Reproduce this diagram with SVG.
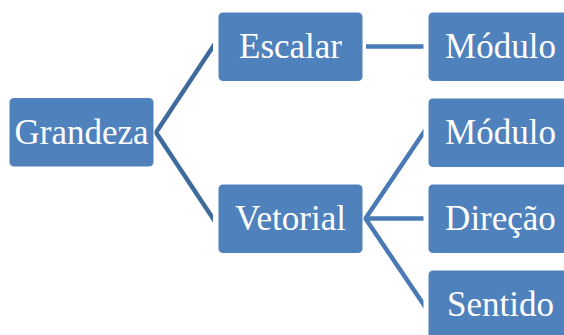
<svg xmlns="http://www.w3.org/2000/svg" width="564" height="335" viewBox="0 0 564 335">
<defs>
<style>
.box{fill:#4F81BD;stroke:#FFFFFF;stroke-width:1}
.lbl{font-family:"Liberation Serif","Times New Roman",serif;font-size:35px;fill:#FFFFFF;text-anchor:middle}
.c1{stroke:#3F6A9C;stroke-width:4.5;fill:none}
.c2{stroke:#4A7AB5;stroke-width:4.5;fill:none}
</style>
<clipPath id="cl1"><rect x="0" y="0" width="213" height="335"/></clipPath>
<clipPath id="cl2"><rect x="300" y="0" width="123.5" height="335"/></clipPath>
</defs>
<rect width="564" height="335" fill="#FFFFFF"/>
<g id="connectors">
<g clip-path="url(#cl1)">
<path class="c1" d="M216,42 L156,132.5 L216,223"/>
</g>
<g clip-path="url(#cl2)">
<line class="c2" x1="366" y1="46.5" x2="430" y2="46.5"/>
<path class="c2" d="M428,126 L365.5,218.5 L428,311"/>
<line class="c2" x1="365.5" y1="218.5" x2="430" y2="218.5"/>
</g>
</g>
<g id="grandeza"><rect class="box" x="9" y="97.5" width="145" height="69.5" rx="5"/><text class="lbl" x="81.5" y="144">Grandeza</text></g>
<g id="escalar"><rect class="box" x="218" y="12" width="145" height="69.5" rx="5"/><text class="lbl" x="290.5" y="58">Escalar</text></g>
<g id="vetorial"><rect class="box" x="218" y="184" width="145" height="69.5" rx="5"/><text class="lbl" x="290.5" y="230">Vetorial</text></g>
<g id="modulo1"><rect class="box" x="428" y="12" width="145" height="69.5" rx="5"/><text class="lbl" x="500.5" y="58">Módulo</text></g>
<g id="modulo2"><rect class="box" x="428" y="98" width="145" height="69.5" rx="5"/><text class="lbl" x="500.5" y="144">Módulo</text></g>
<g id="direcao"><rect class="box" x="428" y="184" width="145" height="69.5" rx="5"/><text class="lbl" x="500.5" y="230">Direção</text></g>
<g id="sentido"><rect class="box" x="428" y="270" width="145" height="69.5" rx="5"/><text class="lbl" x="500.5" y="316">Sentido</text></g>
</svg>
